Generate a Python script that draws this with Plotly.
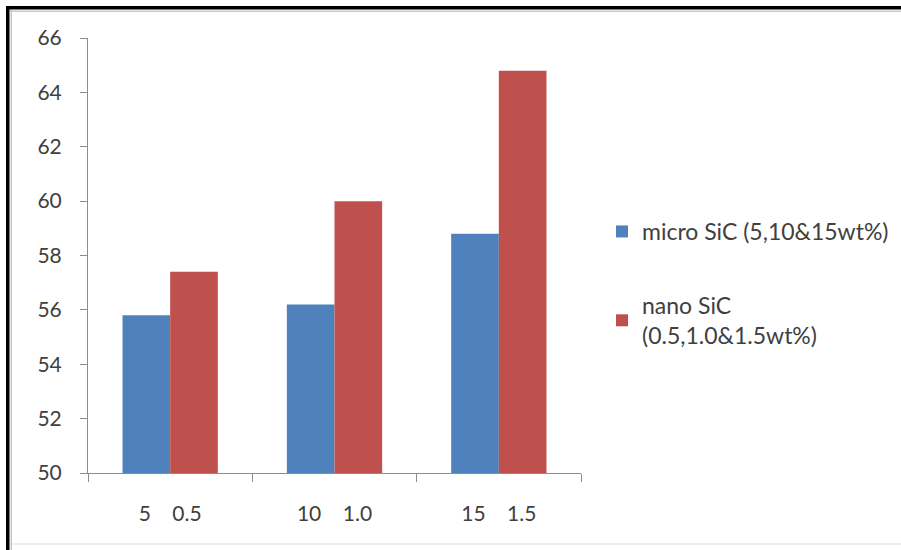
import plotly.graph_objects as go

# Sample groups (micro wt% / nano wt%)
categories = ["5\u00a0\u00a0\u00a0\u00a00.5", "10\u00a0\u00a0\u00a0\u00a01.0", "15\u00a0\u00a0\u00a0\u00a01.5"]
micro_vals = [55.8, 56.2, 58.8]
nano_vals = [57.4, 60.0, 64.8]
micro_name = "micro SiC (5,10&15wt%)"
nano_name = "nano SiC<br>(0.5,1.0&1.5wt%)"

W, H = 901, 550
L, R, T, B = 88, 320, 38, 77
FONT = "Lato"
TXT = "#404040"
AX = "#8c8c8c"


def px_x(px):
    return (px - L) / (W - L - R)


def px_y(py):
    return (H - B - py) / (H - T - B)


fig = go.Figure()
fig.add_trace(go.Bar(x=categories, y=micro_vals, name=micro_name,
                     marker=dict(color="#4F81BD", line=dict(width=0)),
                     legendgroup="a"))
fig.add_trace(go.Bar(x=categories, y=nano_vals, name=nano_name,
                     marker=dict(color="#C0504D", line=dict(width=0)),
                     legendgroup="b"))


def frame_rect(x0, y0, x1, y1, color):
    return dict(type="rect", xref="paper", yref="paper",
                x0=px_x(x0), x1=px_x(x1), y0=px_y(y0), y1=px_y(y1),
                line=dict(width=0), fillcolor=color, layer="below")


# outer frame: heavy black top/left edge with a thin grey inner edge
shapes = [
    frame_rect(6, 6, W, 9.5, "black"),
    frame_rect(6, 6, 9.5, H, "black"),
    frame_rect(10, 10.5, W, 12, "#c8c8c8"),
    frame_rect(10.5, 10, 12, H, "#c8c8c8"),
    frame_rect(12, 543, W, 545, "#ededed"),
]

fig.update_layout(
    width=W, height=H,
    margin=dict(l=L, r=R, t=T, b=B, autoexpand=False),
    paper_bgcolor="white", plot_bgcolor="white",
    barmode="group", bargap=0.42, bargroupgap=0,
    font=dict(family=FONT, size=21, color=TXT),
    shapes=shapes,
    legend=dict(x=px_x(602), y=px_y(210), xanchor="left", yanchor="top",
                tracegroupgap=41, font=dict(family=FONT, size=23, color=TXT),
                bgcolor="rgba(0,0,0,0)"),
    xaxis=dict(type="category", showline=True, linecolor=AX, linewidth=1,
               ticks="outside", tickson="boundaries", ticklen=8, tickcolor=AX,
               showgrid=False, ticklabelstandoff=22),
    yaxis=dict(range=[50, 66], dtick=2, showline=True, linecolor=AX, linewidth=1,
               ticks="outside", ticklen=7, tickcolor=AX, showgrid=False,
               zeroline=False, ticklabelstandoff=14),
)

# keep the page itself from scrolling
page_js = (
    "document.documentElement.style.overflow='hidden';"
    "document.body.style.overflow='hidden';"
    "document.body.style.margin='0';"
)

fig.write_html("out.html", config={"displayModeBar": False}, post_script=page_js)
